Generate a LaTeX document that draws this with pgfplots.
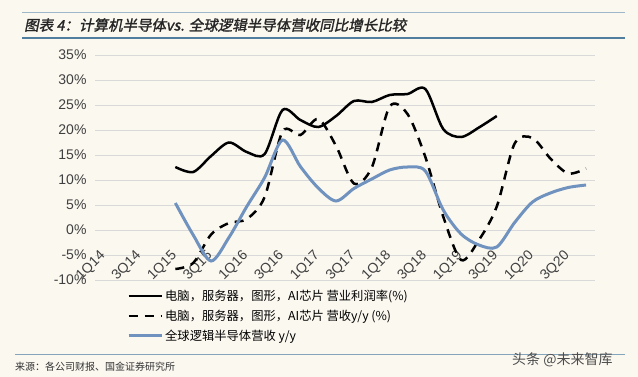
\documentclass[border=0pt]{standalone}
\usepackage{pgfplots}
\pgfplotsset{compat=1.18}
\usepackage{fontspec}
\setmainfont{Liberation Sans}
\newfontfamily\cjk{Noto Sans CJK SC}
\newfontfamily\cjkt[FakeSlant=0.2,FakeBold=1.5]{Noto Sans CJK SC}
\definecolor{bg}{RGB}{251,248,240}
\definecolor{blueline}{RGB}{112,146,190}
\definecolor{rule}{RGB}{79,126,158}
\definecolor{gridc}{RGB}{217,217,217}

\pgfplotstableread{
x y
4.5 12.6
5.5 11.6
6.5 14.8
7.5 17.5
8.5 15.6
9.5 15.2
10.5 24.0
11.5 22.0
12.5 20.6
13.5 22.8
14.5 25.8
15.5 25.6
16.5 27.0
17.5 27.2
18.5 28.2
19.5 20.2
20.5 18.6
21.5 20.5
22.5 22.8
}\margin

\pgfplotstableread{
x y
4.5 -7.8
5.5 -6.6
6.5 -0.9
7.5 1.4
8.5 2.2
9.5 6.6
10.5 19.7
11.5 19.0
12.5 22.2
13.5 16.8
14.5 9.3
15.5 12.5
16.5 24.7
17.5 23.2
18.5 14.6
19.5 2.7
20.5 -6.0
21.5 -2.0
22.5 4.7
23.5 17.3
24.5 18.4
25.5 14.3
26.5 11.3
27.5 12.3
}\revenue

\pgfplotstableread{
x y
4.5 5.4
5.5 -1.0
6.5 -6.2
7.5 -1.5
8.5 4.7
9.5 10.5
10.5 18.0
11.5 12.7
12.5 8.4
13.5 5.8
14.5 8.3
15.5 10.2
16.5 12.0
17.5 12.6
18.5 11.8
19.5 4.0
20.5 -0.8
21.5 -3.0
22.5 -3.4
23.5 1.5
24.5 5.6
25.5 7.4
26.5 8.5
27.5 9.0
}\logic

\begin{document}
\begin{tikzpicture}
\fill[bg] (0,0) rectangle (638bp,377bp);
\useasboundingbox (0,0) rectangle (638bp,377bp);
\draw[color=rule!55, line width=0.8bp] (22bp,365bp) -- (625bp,365bp);
\node[anchor=west, font=\fontsize{14.5bp}{16bp}\cjkt, text=black!85, inner sep=0pt] at (24bp,352bp) {图表 4：计算机半导体vs. 全球逻辑半导体营收同比增长比较};
\draw[color=rule, line width=2.5bp] (22bp,339bp) -- (625bp,339bp);

\begin{axis}[
  at={(95bp,97bp)}, anchor=south west,
  scale only axis, width=500bp, height=225bp,
  xmin=0, xmax=28, ymin=-10, ymax=35,
  axis line style={draw=none}, major tick length=0pt,
  ytick={-10,-5,0,5,10,15,20,25,30,35},
  yticklabels={-10\%,-5\%,0\%,5\%,10\%,15\%,20\%,25\%,30\%,35\%},
  ymajorgrids, grid style={gridc, line width=0.8bp},
  xtick={0.5,2.5,4.5,6.5,8.5,10.5,12.5,14.5,16.5,18.5,20.5,22.5,24.5,26.5},
  xticklabels={1Q14,3Q14,1Q15,3Q15,1Q16,3Q16,1Q17,3Q17,1Q18,3Q18,1Q19,3Q19,1Q20,3Q20},
  tick label style={font=\fontsize{14bp}{16bp}\selectfont, text=black!75},
  yticklabel style={xshift=-5bp},
  xticklabel style={yshift=27bp, rotate=45, anchor=east, inner sep=1bp},
  clip=false,
  legend style={at={(0.064,-0.035)}, anchor=north west, draw=none, fill=none,
    font=\fontsize{12.3bp}{14bp}\cjk, row sep=4bp, inner sep=0pt},
  legend cell align=left,
  legend image code/.code={\draw[#1] (0bp,0bp) -- (33bp,0bp);},
]
\addplot[black, line width=2.5bp, smooth, tension=0.5] table {\margin};
\addlegendentry{电脑，服务器，图形，AI芯片 营业利润率(\%)}
\addplot[black, line width=2.5bp, smooth, tension=0.5, dash pattern=on 9bp off 7bp] table {\revenue};
\addlegendentry{电脑，服务器，图形，AI芯片 营收y/y (\%)}
\addplot[blueline, line width=3bp, smooth, tension=0.5] table {\logic};
\addlegendentry{全球逻辑半导体营收 y/y}
\end{axis}

\draw[color=rule!70, line width=0.8bp] (15bp,23bp) -- (625bp,23bp);
\node[anchor=west, font=\fontsize{10bp}{12bp}\cjk, text=black!80, inner sep=0pt] at (15bp,10bp) {来源：各公司财报、国金证券研究所};
\node[anchor=west, font=\fontsize{14bp}{16bp}\cjk, text=black!70, inner sep=0pt] at (512bp,17bp) {头条 @未来智库};
\end{tikzpicture}
\end{document}
